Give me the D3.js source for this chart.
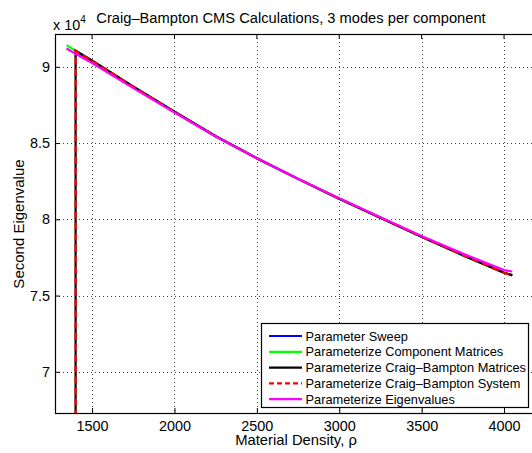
<!DOCTYPE html>
<html>
<head>
<meta charset="utf-8">
<script src="https://cdn.jsdelivr.net/npm/d3@7"></script>
<style>
  body { margin: 0; background: #fff; }
  svg { display: block; font-family: 'Liberation Sans', Arial, sans-serif; }
</style>
</head>
<body>
<div id="chart"></div>
<script>
// densities + second eigenvalues (x 10^4)
const sweepDensity = [1400, 1500, 1750, 2000, 2250, 2500, 2750, 3000, 3250, 3500, 3750, 4000, 4050];
const sweepValue = [9.105, 9.04, 8.87, 8.705, 8.545, 8.40, 8.265, 8.135, 8.01, 7.885, 7.765, 7.65, 7.632];

const compDensity = [1345, 1400, 1500, 1750, 2000, 2250, 2500, 2750, 3000, 3250, 3500, 3750, 4000, 4050];
const compValue = [9.142, 9.105, 9.04, 8.87, 8.705, 8.545, 8.40, 8.265, 8.135, 8.01, 7.885, 7.765, 7.65, 7.632];

// CB matrices / CB system start with a bad point at 1400 that drops off the axes
const cbDensity = [1400, 1400, 1500, 1750, 2000, 2250, 2500, 2750, 3000, 3250, 3500, 3750, 4000, 4050];
const cbMatValue = [0, 9.105, 9.04, 8.87, 8.705, 8.545, 8.40, 8.265, 8.135, 8.01, 7.885, 7.765, 7.65, 7.634];
const cbSysValue = [0, 9.105, 9.04, 8.87, 8.705, 8.545, 8.40, 8.265, 8.135, 8.01, 7.885, 7.765, 7.65, 7.63];

const eigDensity = [1345, 1400, 1500, 1750, 2000, 2250, 2500, 2750, 3000, 3250, 3500, 3750, 4000, 4050];
const eigValue = [9.12, 9.085, 9.025, 8.86, 8.70, 8.543, 8.40, 8.266, 8.138, 8.014, 7.89, 7.775, 7.667, 7.658];

const xTicks = [1500, 2000, 2500, 3000, 3500, 4000];
const yTicks = [7, 7.5, 8, 8.5, 9];

const seriesNames = [
  'Parameter Sweep',
  'Parameterize Component Matrices',
  'Parameterize Craig\u2013Bampton Matrices',
  'Parameterize Craig\u2013Bampton System',
  'Parameterize Eigenvalues',
];
const seriesColors = ['#0000ff', '#00ff00', '#000000', '#ff0000', '#ff00ff'];

const W = 532;
const H = 453;
const plot = { left: 55, right: 537, top: 34, bottom: 413 };

const svg = d3.select('#chart').append('svg')
  .attr('width', W)
  .attr('height', H);

const x = d3.scaleLinear().domain([1275, 4200]).range([plot.left, plot.right]);
const y = d3.scaleLinear().domain([6.73, 9.215]).range([plot.bottom, plot.top]);

svg.append('clipPath').attr('id', 'clip')
  .append('rect')
  .attr('x', plot.left).attr('y', plot.top)
  .attr('width', plot.right - plot.left).attr('height', plot.bottom - plot.top);

// dotted grid
const grid = svg.append('g').attr('stroke', '#444').attr('stroke-width', 1).attr('stroke-dasharray', '1,3');
grid.selectAll('.gx').data(xTicks).enter().append('line')
  .attr('x1', (d) => Math.round(x(d)) + 0.5).attr('x2', (d) => Math.round(x(d)) + 0.5)
  .attr('y1', plot.top).attr('y2', plot.bottom);
grid.selectAll('.gy').data(yTicks).enter().append('line')
  .attr('y1', (d) => Math.round(y(d)) + 0.5).attr('y2', (d) => Math.round(y(d)) + 0.5)
  .attr('x1', plot.left).attr('x2', plot.right);

// axes, ticks inside like matlab
const xAxis = d3.axisBottom(x).tickValues(xTicks).tickSizeInner(-5).tickSizeOuter(0).tickPadding(7.5)
  .tickFormat(d3.format('d'));
const yAxis = d3.axisLeft(y).tickValues(yTicks).tickSizeInner(-5).tickSizeOuter(0).tickPadding(5)
  .tickFormat(d3.format('~g'));

const gx = svg.append('g').attr('transform', `translate(0,${plot.bottom})`).call(xAxis);
const gy = svg.append('g').attr('transform', `translate(${plot.left},0)`).call(yAxis);
[gx, gy].forEach((g) => {
  g.attr('font-family', null);
  g.select('.domain').remove();
  g.selectAll('line').attr('stroke', '#000');
  g.selectAll('text').attr('fill', '#000').style('font-size', '14.4px');
});
// top ticks
svg.append('g').selectAll('line').data(xTicks).enter().append('line')
  .attr('x1', (d) => x(d)).attr('x2', (d) => x(d))
  .attr('y1', plot.top).attr('y2', plot.top + 5)
  .attr('stroke', '#000');

svg.append('rect')
  .attr('x', plot.left + 0.5).attr('y', plot.top + 0.5)
  .attr('width', plot.right - plot.left).attr('height', plot.bottom - plot.top)
  .attr('fill', 'none').attr('stroke', '#000').attr('stroke-width', 1.2);

// series
const lineGen = d3.line().x((d) => x(d[0])).y((d) => y(d[1]));
const zipPts = (xs, ys) => xs.map((v, i) => [v, ys[i]]);
const series = [
  { pts: zipPts(sweepDensity, sweepValue), dash: null },
  { pts: zipPts(compDensity, compValue), dash: null },
  { pts: zipPts(cbDensity, cbMatValue), dash: null },
  { pts: zipPts(cbDensity, cbSysValue), dash: '7,4' },
  { pts: zipPts(eigDensity, eigValue), dash: null },
];
const lines = svg.append('g').attr('clip-path', 'url(#clip)');
series.forEach((s, i) => {
  lines.append('path')
    .datum(s.pts)
    .attr('d', lineGen)
    .attr('fill', 'none')
    .attr('stroke', seriesColors[i])
    .attr('stroke-width', 2.2)
    .attr('stroke-dasharray', s.dash);
});

// labels
svg.append('text')
  .attr('x', 291).attr('y', 23)
  .attr('text-anchor', 'middle')
  .style('font-size', '14.7px')
  .text('Craig\u2013Bampton CMS Calculations, 3 modes per component');

svg.append('text')
  .attr('x', 296).attr('y', 445)
  .attr('text-anchor', 'middle')
  .style('font-size', '14.8px')
  .text('Material Density, \u03c1');

svg.append('text')
  .attr('transform', 'translate(24,224) rotate(-90)')
  .attr('text-anchor', 'middle')
  .style('font-size', '15px')
  .text('Second Eigenvalue');

const mult = svg.append('text').attr('x', 53).attr('y', 30).style('font-size', '14.4px');
mult.append('tspan').text('x 10');
mult.append('tspan').attr('dy', -7).style('font-size', '10px').text('4');

// legend
const leg = svg.append('g');
leg.append('rect')
  .attr('x', 261.5).attr('y', 323.5)
  .attr('width', 267).attr('height', 84)
  .attr('fill', '#fff').attr('stroke', '#000').attr('stroke-width', 1.2);
seriesNames.forEach((name, i) => {
  const cy = 336 + i * 15.8;
  leg.append('line')
    .attr('x1', 269).attr('x2', 302)
    .attr('y1', cy).attr('y2', cy)
    .attr('stroke', seriesColors[i])
    .attr('stroke-width', 2.2)
    .attr('stroke-dasharray', series[i].dash ? '5,3' : null);
  leg.append('text')
    .attr('x', 305.5).attr('y', cy + 4.5)
    .style('font-size', '12.8px')
    .text(name);
});
</script>
</body>
</html>
